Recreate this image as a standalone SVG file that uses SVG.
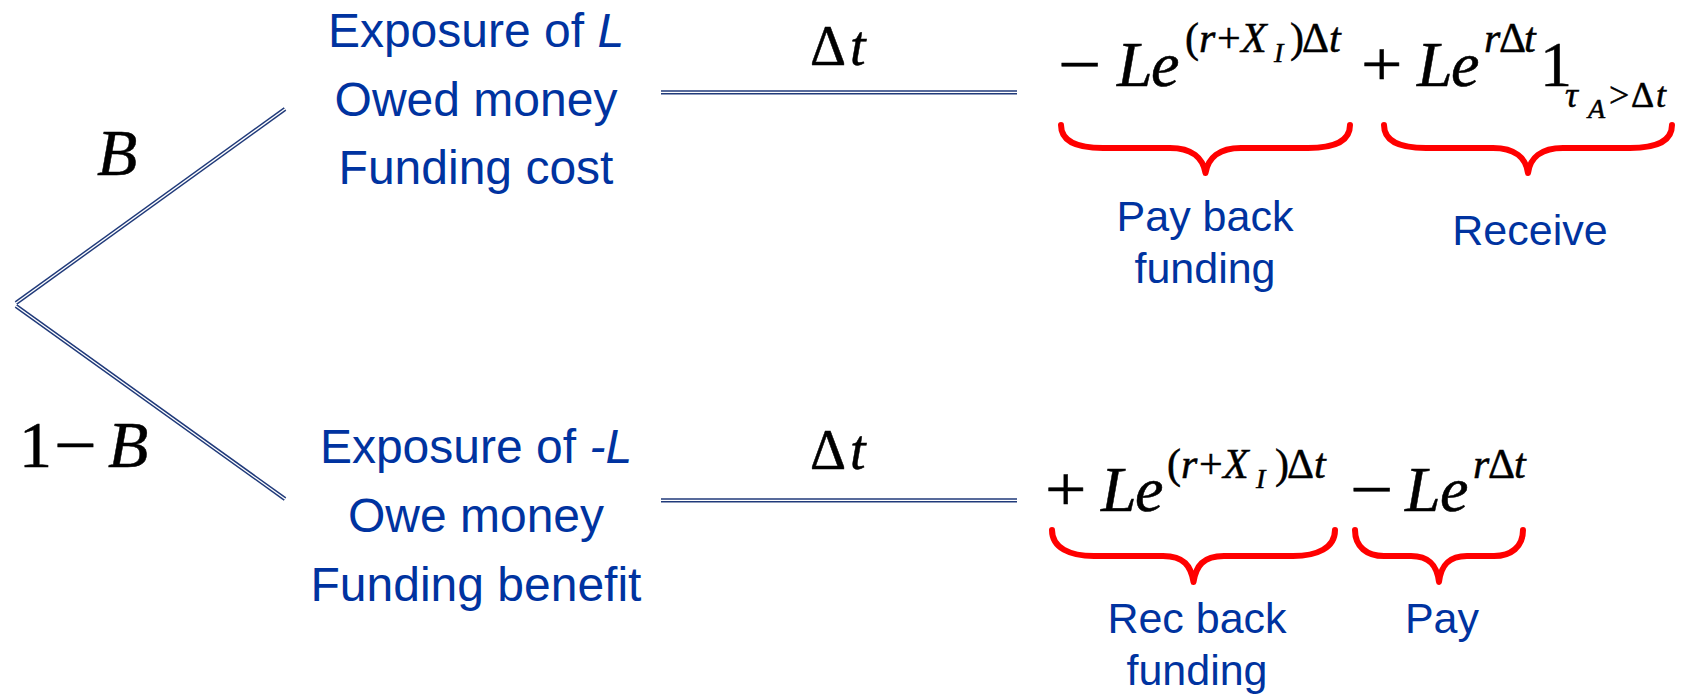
<svg xmlns="http://www.w3.org/2000/svg" width="1691" height="694" viewBox="0 0 1691 694">
<style>
.bl{font-family:"Liberation Sans",Arial,sans-serif;fill:#0033A0;}
.big{font-size:48px;}
.lab{font-size:43px;}
.m{font-family:"Liberation Serif","Times New Roman",serif;fill:#000;stroke:#000;stroke-width:0.5;}
.i{font-style:italic;}
.f64{font-size:64px;}
.f65{font-size:66px;}
.f56{font-size:56px;}
.s42{font-size:42px;}
.s36{font-size:36px;}
.s28{font-size:28px;}
.dlo{stroke:#203a7a;stroke-width:4.2;fill:none;}
.dli{stroke:#fff;stroke-width:1.3;fill:none;}
.br{stroke:#ff0000;stroke-width:6;fill:none;stroke-linecap:round;stroke-linejoin:round;}
</style>
<rect width="1691" height="694" fill="#fff"/>

<g id="connectors">
  <line class="dlo" x1="16" y1="303" x2="285" y2="109"/>
  <line class="dli" x1="16" y1="303" x2="285" y2="109"/>
  <line class="dlo" x1="16" y1="306" x2="285" y2="499"/>
  <line class="dli" x1="16" y1="306" x2="285" y2="499"/>
  <line class="dlo" x1="661" y1="92.3" x2="1017" y2="92.3"/>
  <line class="dli" x1="661" y1="92.3" x2="1017" y2="92.3"/>
  <line class="dlo" x1="661" y1="500.3" x2="1017" y2="500.3"/>
  <line class="dli" x1="661" y1="500.3" x2="1017" y2="500.3"/>
</g>

<g id="prob-B">
  <text class="m i f65" x="97" y="175">B</text>
</g>
<g id="prob-1-B">
  <text class="m f65" x="19" y="467">1</text>
  <text class="m f65" transform="translate(54,467) scale(1.15,1)">−</text>
  <text class="m i f65" x="108" y="467">B</text>
</g>

<g id="node-upper">
  <text class="bl big" x="476" y="47" text-anchor="middle">Exposure of <tspan font-style="italic">L</tspan></text>
  <text class="bl big" x="476" y="116" text-anchor="middle">Owed money</text>
  <text class="bl big" x="476" y="184" text-anchor="middle">Funding cost</text>
</g>
<g id="node-lower">
  <text class="bl big" x="476" y="463" text-anchor="middle">Exposure of <tspan font-style="italic">-L</tspan></text>
  <text class="bl big" x="476" y="532" text-anchor="middle">Owe money</text>
  <text class="bl big" x="476" y="601" text-anchor="middle">Funding benefit</text>
</g>

<g id="dt-upper">
  <text class="m f56" x="810" y="65">Δ</text>
  <text class="m i f56" x="850" y="65">t</text>
</g>
<g id="dt-lower">
  <text class="m f56" x="810" y="469">Δ</text>
  <text class="m i f56" x="850" y="469">t</text>
</g>

<g id="formula-upper">
  <text class="m f64" transform="translate(1058,86) scale(1.2,1)">−</text>
  <text class="m i f64" x="1117" y="86">L</text>
  <text class="m i f64" x="1151" y="86">e</text>
  <text class="m s42" x="1185" y="52">(</text>
  <text class="m i s42" x="1199" y="52">r</text>
  <text class="m s42" x="1217" y="52">+</text>
  <text class="m i s42" x="1241" y="52">X</text>
  <text class="m i s28" x="1274" y="62">I</text>
  <text class="m s42" x="1290" y="52">)</text>
  <text class="m s42" x="1302" y="52">Δ</text>
  <text class="m i s42" x="1329" y="52">t</text>

  <text class="m f64" transform="translate(1361,86) scale(1.15,1)">+</text>
  <text class="m i f64" x="1417" y="86">L</text>
  <text class="m i f64" x="1451" y="86">e</text>
  <text class="m i s42" x="1484" y="52">r</text>
  <text class="m s42" x="1499" y="52">Δ</text>
  <text class="m i s42" x="1524" y="52">t</text>
  <text class="m f64" x="1540" y="86">1</text>
  <text class="m i s36" x="1565" y="107">τ</text>
  <text class="m i s28" x="1588" y="118">A</text>
  <text class="m s36" x="1609" y="107">&gt;</text>
  <text class="m s36" x="1631" y="107">Δ</text>
  <text class="m i s36" x="1656" y="107">t</text>
</g>

<g id="formula-lower">
  <text class="m f64" transform="translate(1045,511) scale(1.15,1)">+</text>
  <text class="m i f64" x="1101" y="511">L</text>
  <text class="m i f64" x="1135" y="511">e</text>
  <text class="m s42" x="1167" y="478">(</text>
  <text class="m i s42" x="1181" y="478">r</text>
  <text class="m s42" x="1199" y="478">+</text>
  <text class="m i s42" x="1223" y="478">X</text>
  <text class="m i s28" x="1256" y="488">I</text>
  <text class="m s42" x="1275" y="478">)</text>
  <text class="m s42" x="1287" y="478">Δ</text>
  <text class="m i s42" x="1314" y="478">t</text>

  <text class="m f64" transform="translate(1350,511) scale(1.2,1)">−</text>
  <text class="m i f64" x="1405" y="511">L</text>
  <text class="m i f64" x="1440" y="511">e</text>
  <text class="m i s42" x="1473" y="478">r</text>
  <text class="m s42" x="1488" y="478">Δ</text>
  <text class="m i s42" x="1514" y="478">t</text>
</g>

<g id="brace-pay-back">
  <path class="br" d="M1061,125 C1061,142 1079,148 1103,148 L1170,148 C1192,148 1203,158 1205.5,173 C1208,158 1219,148 1241,148 L1308,148 C1332,148 1350,142 1350,125"/>
  <text class="bl lab" x="1205" y="231" text-anchor="middle">Pay back</text>
  <text class="bl lab" x="1205" y="283" text-anchor="middle">funding</text>
</g>
<g id="brace-receive">
  <path class="br" d="M1384,125 C1384,142 1402,148 1426,148 L1493,148 C1515,148 1526,158 1528,173 C1530,158 1541,148 1563,148 L1630,148 C1654,148 1672,142 1672,125"/>
  <text class="bl lab" x="1530" y="245" text-anchor="middle">Receive</text>
</g>
<g id="brace-rec-back">
  <path class="br" d="M1052,530 C1052,548 1070,556 1094,556 L1163,556 C1184,556 1191,566 1193.5,582 C1196,566 1203,556 1224,556 L1293,556 C1317,556 1335,548 1335,530"/>
  <text class="bl lab" x="1197" y="633" text-anchor="middle">Rec back</text>
  <text class="bl lab" x="1197" y="685" text-anchor="middle">funding</text>
</g>
<g id="brace-pay">
  <path class="br" d="M1355,530 C1355,547 1367,556 1384,556 L1411,556 C1430,556 1437,566 1439,582 C1441,566 1448,556 1467,556 L1494,556 C1511,556 1523,547 1523,530"/>
  <text class="bl lab" x="1442" y="633" text-anchor="middle">Pay</text>
</g>
</svg>
